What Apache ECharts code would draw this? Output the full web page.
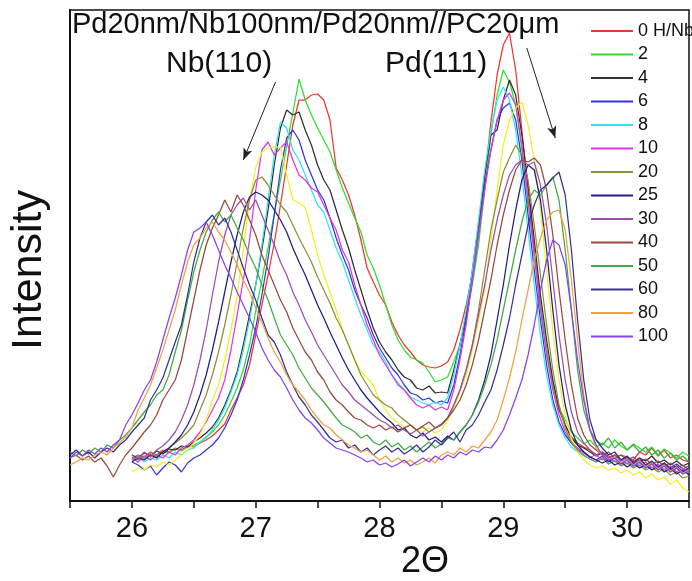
<!DOCTYPE html>
<html lang="en">
<head>
<meta charset="UTF-8">
<title>Pd20nm/Nb100nm/Pd20nm//PC20um XRD</title>
<script src="https://cdn.jsdelivr.net/npm/echarts@6/dist/echarts.min.js"></script>
<style>
  body { margin: 0; background: #fff; }
  #chart { width: 692px; height: 581px; }
</style>
</head>
<body>
<div id="chart"></div>
<script>
// scans are 0.05 deg steps; low-H scans start at 26.0, high-H scans at 25.5
var stepDeg = 0.05;
var startLow = 26.0;
var startHigh = 25.5;

var int0 = [43,46,44,49,46,51,49,53,51,55, 54,58,61,65,71,77,91,103,116,136, 166,196,226,258,296,336,376,401,401,406, 407,401,381,333,321,306,286,261,233,219, 206,196,179,166,156,149,141,136,134,133, 135,139,151,171,196,226,269,323,379,426, 456,468,431,371,311,251,196,151,116,91, 76,64,58,54,51,46,49,45,43,46, 44,41,49,46,53,45,51,43,46,41,39];
var int2 = [41,45,43,47,45,49,48,52,50,54, 56,59,64,69,76,86,99,113,131,156, 190,221,254,287,321,355,388,422,401,386, 373,361,349,331,313,298,283,269,246,233, 216,196,176,161,151,144,141,138,129,119, 121,124,139,156,183,216,256,311,366,406, 431,419,396,351,301,246,196,151,116,93, 81,69,63,57,61,54,58,53,61,55, 51,57,53,49,54,46,52,48,43,49,45];
var int4 = [46,43,48,45,50,47,52,51,55,54, 59,63,68,74,83,96,111,129,156,186, 216,251,291,336,373,391,386,389,371,356, 336,321,311,291,271,253,231,211,191,173, 159,149,141,131,124,121,113,111,115,108, 109,108,131,156,186,231,276,326,366,371, 401,421,406,366,316,261,206,161,121,93, 76,63,56,53,49,45,48,43,46,41, 44,39,43,40,45,38,41,36,40,35,38];
var int6 = [39,36,31,35,26,33,39,36,29,38, 43,46,51,56,63,73,86,101,121,146, 173,206,243,286,331,363,371,361,341,326, 311,301,283,263,246,231,211,196,183,166, 153,143,133,126,116,108,106,101,103,98, 100,98,116,146,181,221,266,316,351,381, 393,398,381,341,286,231,181,136,101,79, 66,58,51,49,44,41,45,39,43,38, 41,36,40,35,39,34,38,33,37,32,35];
var int8 = [41,44,39,43,41,46,43,49,46,51, 53,59,63,71,81,93,109,126,151,181, 216,256,301,346,379,373,351,341,326,311, 296,289,271,253,239,221,203,186,171,156, 149,139,126,118,111,104,101,98,96,99, 96,103,126,156,191,231,281,331,371,401, 414,401,371,326,271,216,166,126,96,76, 63,54,49,45,42,39,43,37,41,36, 39,34,38,33,37,31,35,29,33,27,31];
var int10 = [43,39,45,41,46,43,49,46,53,56, 61,69,79,91,103,121,151,186,221,261, 311,351,359,346,353,359,341,326,321,313, 309,296,283,271,251,239,216,196,176,161, 146,136,126,116,111,103,96,93,96,91, 94,91,111,141,176,221,266,311,351,381, 401,408,396,356,301,246,191,146,111,86, 69,59,53,48,44,46,41,44,39,42, 37,41,35,39,33,37,31,35,29,33,28];
// yellow trace has no legend entry in the original
var intYellow = [29,33,31,36,34,39,36,41,46,51, 58,66,81,101,116,141,171,206,251,301, 333,349,353,354,354,326,301,298,294,271, 246,226,209,191,171,156,141,129,123,116, 101,91,83,78,74,76,71,69,73,68, 71,81,93,109,126,151,181,211,261,311, 356,381,393,399,376,341,291,231,171,121, 86,63,49,41,36,33,35,31,33,28, 31,26,29,23,27,21,24,17,21,13,9];
var int20 = [41,45,42,47,44,49,53,58,63,69, 76,91,106,126,149,176,206,239,273,301, 321,324,316,306,296,289,276,263,251,239, 224,211,198,183,171,156,141,126,116,106, 101,96,93,86,81,76,71,74,69,73, 76,83,96,111,131,156,191,231,271,301, 329,343,356,346,321,276,226,176,131,96, 73,59,51,46,42,39,43,37,40,35, 38,33,36,31,34,29,32,26,29,23,25];
var int25 = [39,43,41,46,43,49,53,59,66,76, 89,106,126,151,179,209,239,266,289,304, 309,306,301,291,281,269,253,239,226,211, 196,183,169,156,143,131,121,111,103,96, 89,83,78,71,73,66,63,68,61,64, 59,65,61,69,76,86,101,121,146,181, 216,256,291,321,336,331,301,251,191,136, 96,71,56,49,44,41,38,41,36,39, 34,38,33,36,31,35,29,33,27,31,26];
var int30 = [46,41,49,44,51,55,61,69,81,96, 116,141,171,206,239,266,286,296,303,291, 301,286,271,256,239,226,209,196,181,169, 156,146,136,126,116,109,101,96,91,86, 81,78,73,76,71,67,71,65,69,73, 76,83,96,111,131,156,186,216,251,281, 306,326,336,341,336,339,316,276,221,166, 121,89,69,58,51,46,49,43,46,40, 43,38,41,35,39,33,37,31,35,29,33];
var int40 = [43,46,41,45,39,43,35,24,36,46, 53,61,69,76,86,101,111,121,141,171, 201,231,256,273,286,301,289,306,296,281, 266,246,231,216,201,189,173,161,149,141, 129,121,109,101,96,89,83,81,76,73, 76,71,74,69,73,76,71,75,79,73, 77,83,91,101,116,136,161,191,221,256, 286,311,331,341,339,343,336,311,266,211, 161,116,83,66,56,51,46,49,43,46, 41,44,39,42,37,40,35,38,33,36,31];
var int50 = [49,45,51,47,53,49,56,53,61,66, 73,81,89,96,106,111,126,149,171,201, 229,251,269,281,289,279,286,273,261,246, 233,216,201,183,166,156,146,133,123,113, 106,99,91,83,76,73,69,63,66,59, 56,61,54,58,51,55,49,54,59,53, 57,63,61,69,76,86,99,116,136,161, 191,221,251,279,301,311,306,316,324,301, 251,191,131,91,71,61,56,63,53,59, 51,56,49,54,46,51,43,48,41,45,39];
var int60 = [46,51,45,49,43,49,53,49,56,61, 69,76,83,101,111,123,141,159,176,206, 239,263,279,286,276,283,269,251,233,216, 201,183,166,159,146,129,116,104,96,86, 79,71,63,59,61,53,56,49,53,46, 51,55,49,53,47,51,56,49,54,61, 56,63,69,59,71,76,86,99,111,131, 156,183,216,246,276,296,311,316,323,329, 306,251,181,121,81,61,53,46,49,41, 45,38,43,36,40,34,38,31,35,29,33];
var int80 = [36,39,43,41,46,49,46,53,58,64, 73,91,103,116,133,151,171,191,216,239, 256,263,273,279,269,261,249,236,221,209, 193,179,163,149,139,126,116,109,101,91, 83,76,73,66,61,56,53,49,51,46, 41,45,39,43,38,41,36,39,43,38, 46,49,46,53,49,55,53,61,69,81, 101,123,149,181,211,241,263,281,289,291, 271,221,161,106,71,53,46,41,44,38, 42,36,40,34,38,32,36,30,34,28,31];
var int100 = [43,49,45,51,47,53,49,56,61,76, 86,98,111,121,139,161,183,203,226,251, 269,273,279,266,251,236,223,209,196,183, 169,153,141,131,124,113,101,91,83,78, 71,63,58,53,51,49,46,43,39,41, 36,38,34,37,41,35,39,43,39,45, 41,46,43,49,46,51,49,54,53,61, 71,86,103,121,146,176,211,241,261,256, 236,191,141,101,71,56,46,41,43,37, 41,35,39,33,37,31,35,29,33,27,30];

var legendNames = ['0 H/Nb', '2', '4', '6', '8', '10', '20', '25', '30', '40', '50', '60', '80', '100'];

// arrows pointing along the peak shift (2theta, intensity)
var nbArrow = [[27.16, 419], [26.90, 341]];
var pdArrow = [[29.19, 453], [29.42, 363]];

var FONT = '"Liberation Sans", Arial, sans-serif';

var traces = [
    { name: '0 H/Nb', color: '#f03535', start: startLow, vals: int0 },
    { name: '2', color: '#2ee02e', start: startLow, vals: int2 },
    { name: '4', color: '#303030', start: startLow, vals: int4 },
    { name: '6', color: '#3535d5', start: startLow, vals: int6 },
    { name: '8', color: '#2fe3f5', start: startLow, vals: int8 },
    { name: '10', color: '#e035e6', start: startLow, vals: int10 },
    { name: 'yellow', color: '#f2f025', start: startLow, vals: intYellow },
    { name: '20', color: '#8f8f3a', start: startLow, vals: int20 },
    { name: '25', color: '#1e1e85', start: startLow, vals: int25 },
    { name: '30', color: '#9a4fb0', start: startLow, vals: int30 },
    { name: '40', color: '#9a4a3c', start: startHigh, vals: int40 },
    { name: '50', color: '#3fae3f', start: startHigh, vals: int50 },
    { name: '60', color: '#34348f', start: startHigh, vals: int60 },
    { name: '80', color: '#f2a040', start: startHigh, vals: int80 },
    { name: '100', color: '#8a42f0', start: startHigh, vals: int100 }
];

function toPoints(start, vals) {
    return vals.map(function (v, i) {
        return [+(start + i * stepDeg).toFixed(2), v];
    });
}

var series = traces.map(function (t) {
    return {
        name: t.name,
        type: 'line',
        data: toPoints(t.start, t.vals),
        symbol: 'none',
        color: t.color,
        lineStyle: { width: 1.25, color: t.color },
        z: 2
    };
});

// arrows drawn as a markLine on an empty helper series
series.push({
    name: 'arrows',
    type: 'line',
    data: [],
    markLine: {
        silent: true,
        symbol: ['none', 'arrow'],
        symbolSize: [7, 12],
        lineStyle: { color: '#222', width: 1, type: 'solid' },
        label: { show: false },
        data: [
            [{ coord: nbArrow[0] }, { coord: nbArrow[1] }],
            [{ coord: pdArrow[0] }, { coord: pdArrow[1] }]
        ]
    }
});

var chart = echarts.init(document.getElementById('chart'));
chart.setOption({
    animation: false,
    backgroundColor: '#fff',
    grid: { left: 70, top: 10, right: -2, bottom: 80, show: true, borderColor: '#111', borderWidth: 1.5 },
    xAxis: {
        type: 'value',
        min: 25.5,
        max: 30.5,
        interval: 0.5,
        axisLine: { show: true, lineStyle: { color: '#111', width: 2 } },
        axisTick: { show: true, length: 7, lineStyle: { color: '#111', width: 1.5 } },
        axisLabel: {
            fontSize: 29, color: '#111', fontFamily: FONT, margin: 13,
            formatter: function (v) { return Number.isInteger(v) ? String(v) : ''; }
        },
        splitLine: { show: false }
    },
    yAxis: {
        type: 'value',
        min: 0,
        max: 491,
        axisLine: { show: true, lineStyle: { color: '#111', width: 2 } },
        axisTick: { show: false },
        axisLabel: { show: false },
        splitLine: { show: false }
    },
    legend: {
        data: legendNames,
        orient: 'vertical',
        left: 591,
        top: 22,
        padding: 0,
        icon: 'rect',
        itemWidth: 42,
        itemHeight: 2,
        itemGap: 5.5,
        textStyle: { fontSize: 18, color: '#111', fontFamily: FONT }
    },
    graphic: [
        { type: 'text', left: 72, top: 10, style: { text: 'Pd20nm/Nb100nm/Pd20nm//PC20\u03bcm', font: '29px ' + FONT, fill: '#111' } },
        { type: 'text', left: 166, top: 49, style: { text: 'Nb(110)', font: '30px ' + FONT, fill: '#111' } },
        { type: 'text', left: 385, top: 49, style: { text: 'Pd(111)', font: '30px ' + FONT, fill: '#111' } },
        { type: 'text', x: 29, y: 270, rotation: Math.PI / 2, style: { text: 'Intensity', font: '43px ' + FONT, fill: '#111', align: 'center', verticalAlign: 'middle' } },
        { type: 'text', x: 425, y: 562, style: { text: '2\u0398', font: '36px ' + FONT, fill: '#111', align: 'center', verticalAlign: 'middle' } }
    ],
    series: series
});
</script>
</body>
</html>
